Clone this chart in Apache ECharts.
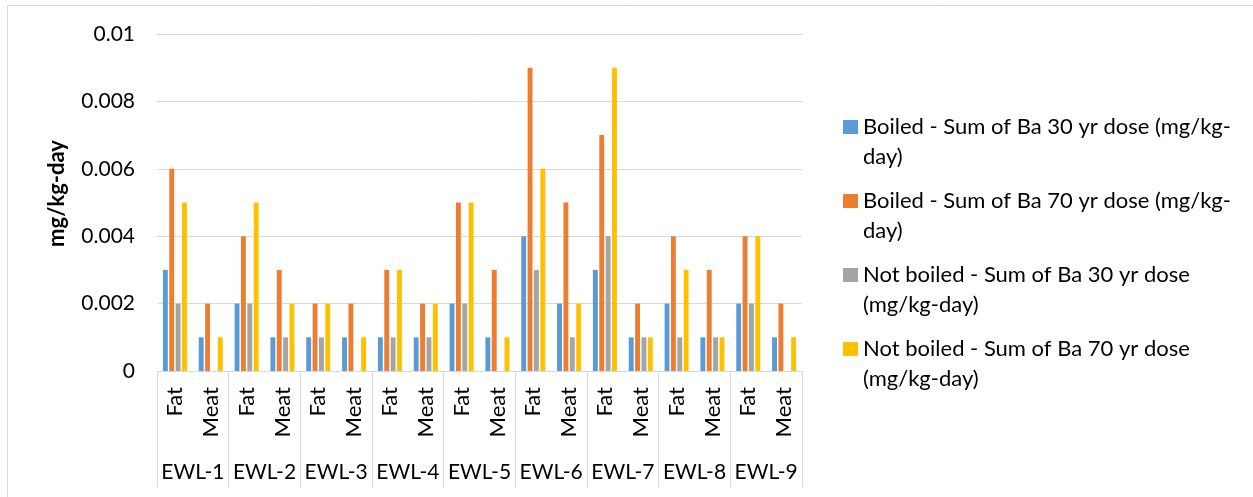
<!DOCTYPE html>
<html>
<head>
<meta charset="utf-8">
<script src="https://cdn.jsdelivr.net/npm/echarts@6/dist/echarts.min.js"></script>
<style>
  html, body { margin: 0; padding: 0; background: #fff; }
  #chart { width: 1253px; height: 497px; }
</style>
</head>
<body>
<div id="chart"></div>
<script>
// Sample sites and the two tissue types measured at each
const sites = ['EWL-1', 'EWL-2', 'EWL-3', 'EWL-4', 'EWL-5', 'EWL-6', 'EWL-7', 'EWL-8', 'EWL-9'];
const tissues = ['Fat', 'Meat'];

// Dose estimates (mg/kg-day), one value per site/tissue pair: Fat, Meat, Fat, Meat, ...
const boiled30 =    [0.003, 0.001, 0.002, 0.001, 0.001, 0.001, 0.001, 0.001, 0.002, 0.001, 0.004, 0.002, 0.003, 0.001, 0.002, 0.001, 0.002, 0.001];
const boiled70 =    [0.006, 0.002, 0.004, 0.003, 0.002, 0.002, 0.003, 0.002, 0.005, 0.003, 0.009, 0.005, 0.007, 0.002, 0.004, 0.003, 0.004, 0.002];
const notBoiled30 = [0.002, 0,     0.002, 0.001, 0.001, 0,     0.001, 0.001, 0.002, 0,     0.003, 0.001, 0.004, 0.001, 0.001, 0.001, 0.002, 0];
const notBoiled70 = [0.005, 0.001, 0.005, 0.002, 0.002, 0.001, 0.003, 0.002, 0.005, 0.001, 0.006, 0.002, 0.009, 0.001, 0.003, 0.001, 0.004, 0.001];

const seriesNames = [
  'Boiled - Sum of Ba 30 yr dose (mg/kg-day)',
  'Boiled - Sum of Ba 70 yr dose (mg/kg-day)',
  'Not boiled - Sum of Ba 30 yr dose (mg/kg-day)',
  'Not boiled - Sum of Ba 70 yr dose (mg/kg-day)'
];
// Legend entries as they wrap onto two lines
const legendLines = [
  ['Boiled - Sum of Ba 30 yr dose (mg/kg-', 'day)'],
  ['Boiled - Sum of Ba 70 yr dose (mg/kg-', 'day)'],
  ['Not boiled - Sum of Ba 30 yr dose', '(mg/kg-day)'],
  ['Not boiled - Sum of Ba 70 yr dose', '(mg/kg-day)']
];
const seriesColors = ['#5B9BD5', '#ED7D31', '#A5A5A5', '#FFC000'];

const yTicks = { min: 0, max: 0.01, interval: 0.002 };

const FONT = 'Lato';
const gridColor = '#d9d9d9';

// Legend key: a square sitting at the top of a taller, otherwise empty box,
// so the key lines up with the first line of a two-line entry
const legendKey = 'path://M0,0H15V14H0Z M0,44H0.01V44.01H0Z';

// Flattened category list: each site contributes a Fat and a Meat slot
const categories = [];
sites.forEach(() => tissues.forEach(t => categories.push(t)));

const valueSets = [boiled30, boiled70, notBoiled30, notBoiled70];

const chart = echarts.init(document.getElementById('chart'), null, { renderer: 'canvas' });

chart.setOption({
  animation: false,
  backgroundColor: '#fff',
  textStyle: { fontFamily: FONT },
  graphic: [{
    type: 'rect',
    shape: { x: 7.5, y: 5.5, width: 1400, height: 700 },
    style: { fill: 'none', stroke: gridColor, lineWidth: 1 },
    silent: true
  }],
  grid: { left: 157, right: 451, top: 34, bottom: 126 },
  legend: {
    orient: 'vertical',
    left: 843,
    top: 112,
    padding: 0,
    itemWidth: 15,
    itemHeight: 44,
    itemGap: 14,
    icon: legendKey,
    data: seriesNames,
    formatter: name => legendLines[seriesNames.indexOf(name)].join('\n'),
    textStyle: {
      fontFamily: FONT, fontSize: 22, color: '#000', lineHeight: 30
    }
  },
  xAxis: [{
    type: 'category',
    data: categories,
    position: 'bottom',
    axisLine: { lineStyle: { color: gridColor, width: 1 } },
    axisTick: {
      show: true,
      length: 116,
      interval: i => i % 2 === 0,
      lineStyle: { color: gridColor, width: 1 }
    },
    axisLabel: {
      rotate: 90,
      margin: 16,
      interval: 0,
      fontFamily: FONT, fontSize: 22, color: '#000'
    }
  }, {
    type: 'category',
    data: sites,
    position: 'bottom',
    offset: 83,
    axisLine: { show: false },
    axisTick: { show: false },
    axisLabel: {
      margin: 8,
      interval: 0,
      fontFamily: FONT, fontSize: 21, color: '#000'
    }
  }],
  yAxis: {
    type: 'value',
    min: yTicks.min,
    max: yTicks.max,
    interval: yTicks.interval,
    name: 'mg/kg-day',
    nameLocation: 'middle',
    nameRotate: 90,
    nameGap: 89,
    nameTextStyle: {
      fontFamily: FONT, fontSize: 22, fontWeight: 'bold', color: '#000',
      padding: [0, 0, 0, 18]
    },
    axisLine: { show: false },
    axisTick: { show: false },
    splitLine: { lineStyle: { color: gridColor, width: 1 } },
    axisLabel: { margin: 22, fontFamily: FONT, fontSize: 21, color: '#000' }
  },
  series: valueSets.map((vals, k) => ({
    name: seriesNames[k],
    type: 'bar',
    xAxisIndex: 0,
    data: vals,
    barGap: '30%',
    barCategoryGap: '33%',
    itemStyle: { color: seriesColors[k] }
  }))
});
</script>
</body>
</html>
